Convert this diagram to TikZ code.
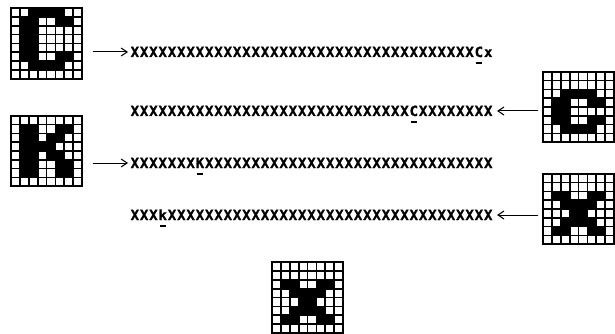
\documentclass[tikz,border=0pt]{standalone}
\usepackage{fontspec}
\usetikzlibrary{arrows.meta,positioning,calc}
\newfontfamily\rowfont{DejaVu Sans Mono Bold}[FakeBold=1.2]
\newlength\cw
\setlength\cw{9.3pt}
\newcommand\cellsz{8.8}
% a run of X's and one marked character
\newcommand\xrun[1]{\foreach \k in {1,...,#1}{\makebox[\cw]{X}}}
\newcommand\hit[1]{\makebox[\cw]{#1}\llap{\makebox[\cw]{\smash{\rule[-7pt]{6.5pt}{1.8pt}}}}}
\tikzset{
    gridbox/.style={
        rectangle,
        draw,
        fill=white,
        line width=2pt,
        minimum size=70.4pt,
        inner sep=0pt,
        outer sep=0pt
    },
    gridline/.style={line width=1.6pt},
    xrow/.style={
        anchor=west,
        inner sep=0pt,
        text height=10pt,
        text depth=0pt,
        font=\rowfont\fontsize{14pt}{14pt}\selectfont
    },
    arr/.style={-{Straight Barb[length=6pt,width=8pt]}, line width=1pt}
}
% 8x8 pixel box: name, centre, black cells col/row
\newcommand\pixbox[3]{%
  \node[gridbox] (#1) at (#2) {};
  \begin{scope}[shift={(#1.north west)}]
    \foreach \c/\r in {#3} \fill (\c*\cellsz,\r*\cellsz) rectangle ++(\cellsz,\cellsz);
    \foreach \i in {1,...,7} {
      \draw[gridline] (\i*\cellsz,0) -- ++(0,8*\cellsz);
      \draw[gridline] (0,\i*\cellsz) -- ++(8*\cellsz,0);
    }
  \end{scope}}

\begin{document}
\begin{tikzpicture}[x=1pt, y=-1pt]
\useasboundingbox (0,0) rectangle (615,334);

\pixbox{cbig}{46.5,43.5}{2/0,3/0,4/0,5/0,1/1,2/1,5/1,6/1,1/2,2/2,1/3,2/3,1/4,2/4,1/5,2/5,5/5,6/5,2/6,3/6,4/6,5/6}
\pixbox{kbig}{46.5,151}{1/1,2/1,5/1,6/1,1/2,2/2,4/2,5/2,1/3,2/3,3/3,4/3,1/4,2/4,4/4,5/4,1/5,2/5,5/5,6/5,1/6,2/6,5/6,6/6}
\pixbox{csmall}{578.5,107}{2/2,3/2,4/2,5/2,1/3,2/3,5/3,6/3,1/4,2/4,1/5,2/5,5/5,6/5,2/6,3/6,4/6,5/6}
\pixbox{xright}{578.5,209}{1/2,2/2,5/2,6/2,2/3,3/3,4/3,5/3,3/4,4/4,2/5,3/5,4/5,5/5,1/6,2/6,5/6,6/6}
\pixbox{xbottom}{307.5,297.5}{1/2,2/2,5/2,6/2,2/3,3/3,4/3,5/3,3/4,4/4,2/5,3/5,4/5,5/5,1/6,2/6,5/6,6/6}

\node[xrow] (row1) at (130,52) {\xrun{37}\hit{C}\makebox[\cw]{x}};
\node[xrow] (row2) at (130,111) {\xrun{30}\hit{C}\xrun{8}};
\node[xrow] (row3) at (130,163) {\xrun{7}\hit{K}\xrun{31}};
\node[xrow] (row4) at (130,215) {\xrun{3}\hit{k}\xrun{35}};

\draw[arr, shorten <=11pt, shorten >=2pt] (cbig.east |- row1.west) -- (row1.west);
\draw[arr, shorten <=5pt, shorten >=4pt] (csmall.west |- row2.east) -- (row2.east);
\draw[arr, shorten <=11pt, shorten >=2pt] (kbig.east |- row3.west) -- (row3.west);
\draw[arr, shorten <=5pt, shorten >=4pt] (xright.west |- row4.east) -- (row4.east);
\end{tikzpicture}
\end{document}
